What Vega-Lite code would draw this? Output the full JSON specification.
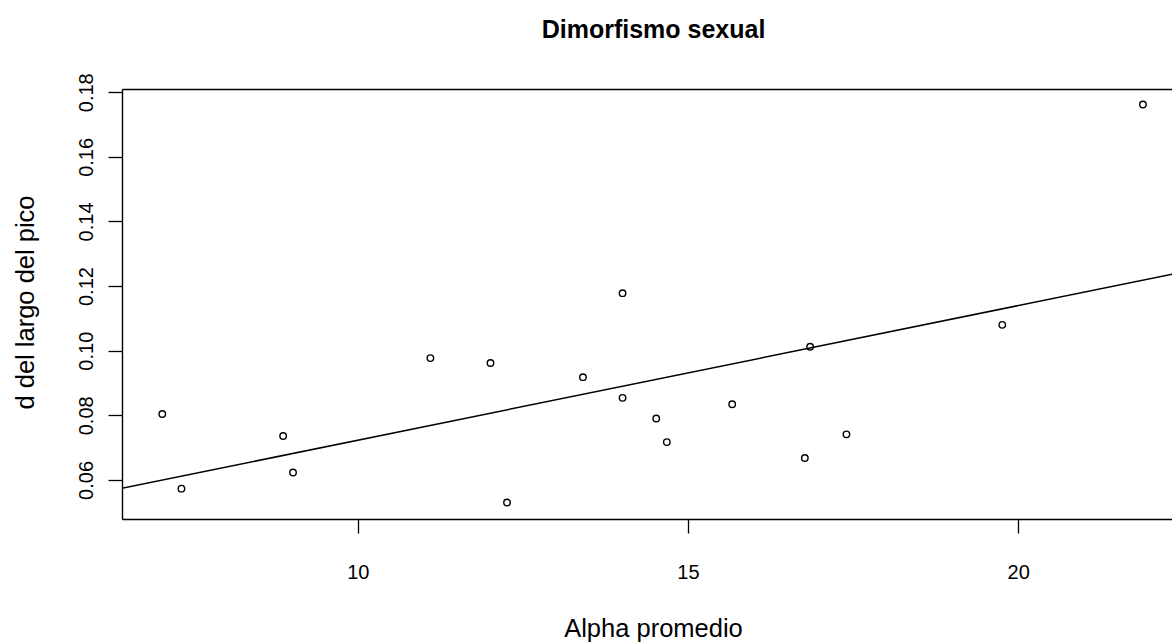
{
  "$schema": "https://vega.github.io/schema/vega-lite/v6.json",
  "autosize": "none",
  "width": 1050,
  "height": 430,
  "padding": {"left": 122, "top": 89, "right": 0, "bottom": 124},
  "background": "white",
  "config": {
    "view": {"stroke": null},
    "font": "Liberation Sans",
    "axis": {"grid": false, "domainColor": "black", "tickColor": "black", "labelColor": "black", "titleColor": "black", "labelFont": "Liberation Sans", "titleFont": "Liberation Sans", "titleFontWeight": "normal", "domainWidth": 1.4, "tickWidth": 1.3, "tickSize": 14}
  },
  "title": {
    "text": "Dimorfismo sexual",
    "font": "Liberation Sans",
    "fontSize": 25,
    "fontWeight": "bold",
    "color": "black",
    "anchor": "middle",
    "frame": "group",
    "dx": 6.5,
    "offset": 10,
    "baseline": "alphabetic"
  },
  "datasets": {
    "pts": [
      {"alpha": 7.04, "d": 0.0804},
      {"alpha": 7.33, "d": 0.0573},
      {"alpha": 8.87, "d": 0.0736},
      {"alpha": 9.02, "d": 0.0623},
      {"alpha": 11.10, "d": 0.0977},
      {"alpha": 12.01, "d": 0.0962},
      {"alpha": 12.26, "d": 0.0530},
      {"alpha": 13.41, "d": 0.0918},
      {"alpha": 14.01, "d": 0.1178},
      {"alpha": 14.01, "d": 0.0854},
      {"alpha": 14.52, "d": 0.0790},
      {"alpha": 14.68, "d": 0.0717},
      {"alpha": 15.67, "d": 0.0834},
      {"alpha": 16.77, "d": 0.0668},
      {"alpha": 16.85, "d": 0.1012},
      {"alpha": 17.40, "d": 0.0741},
      {"alpha": 19.76, "d": 0.1080},
      {"alpha": 21.89, "d": 0.1762}
    ],
    "fit": [
      {"alpha": 6.0, "d": 0.05561},
      {"alpha": 23.0, "d": 0.12646}
    ]
  },
  "layer": [
    {
      "data": {"name": "pts"},
      "mark": {"type": "point", "filled": false, "color": "black", "size": 42, "strokeWidth": 1.4, "opacity": 1},
      "encoding": {
        "x": {
          "field": "alpha", "type": "quantitative",
          "scale": {"domain": [6.43, 22.33], "nice": false, "zero": false},
          "axis": {"orient": "bottom", "values": [10, 15, 20], "title": "Alpha promedio", "labelFontSize": 20, "labelBaseline": "alphabetic", "labelPadding": 45, "titleFontSize": 25.5, "titleBaseline": "alphabetic", "titleX": 531, "titleY": 117.7, "titleAnchor": "start", "titleAlign": "center"}
        },
        "y": {
          "field": "d", "type": "quantitative",
          "scale": {"domain": [0.0479, 0.181], "nice": false, "zero": false},
          "axis": {"values": [0.06, 0.08, 0.1, 0.12, 0.14, 0.16, 0.18], "format": ".2f", "title": "d del largo del pico", "labelFontSize": 20, "labelAngle": -90, "labelAlign": "center", "labelBaseline": "alphabetic", "labelPadding": 16, "titleFontSize": 25.5, "titleBaseline": "alphabetic", "titleAngle": -90, "titleX": -88.6, "titleY": 213, "titleAlign": "center", "titleAnchor": "start"}
        }
      }
    },
    {
      "data": {"name": "fit"},
      "mark": {"type": "line", "color": "black", "strokeWidth": 1.5, "clip": true},
      "encoding": {
        "x": {"field": "alpha", "type": "quantitative", "axis": {"orient": "top", "ticks": false, "labels": false, "title": null, "domain": true}},
        "y": {"field": "d", "type": "quantitative"}
      }
    }
  ],
  "resolve": {"axis": {"x": "independent"}}
}
